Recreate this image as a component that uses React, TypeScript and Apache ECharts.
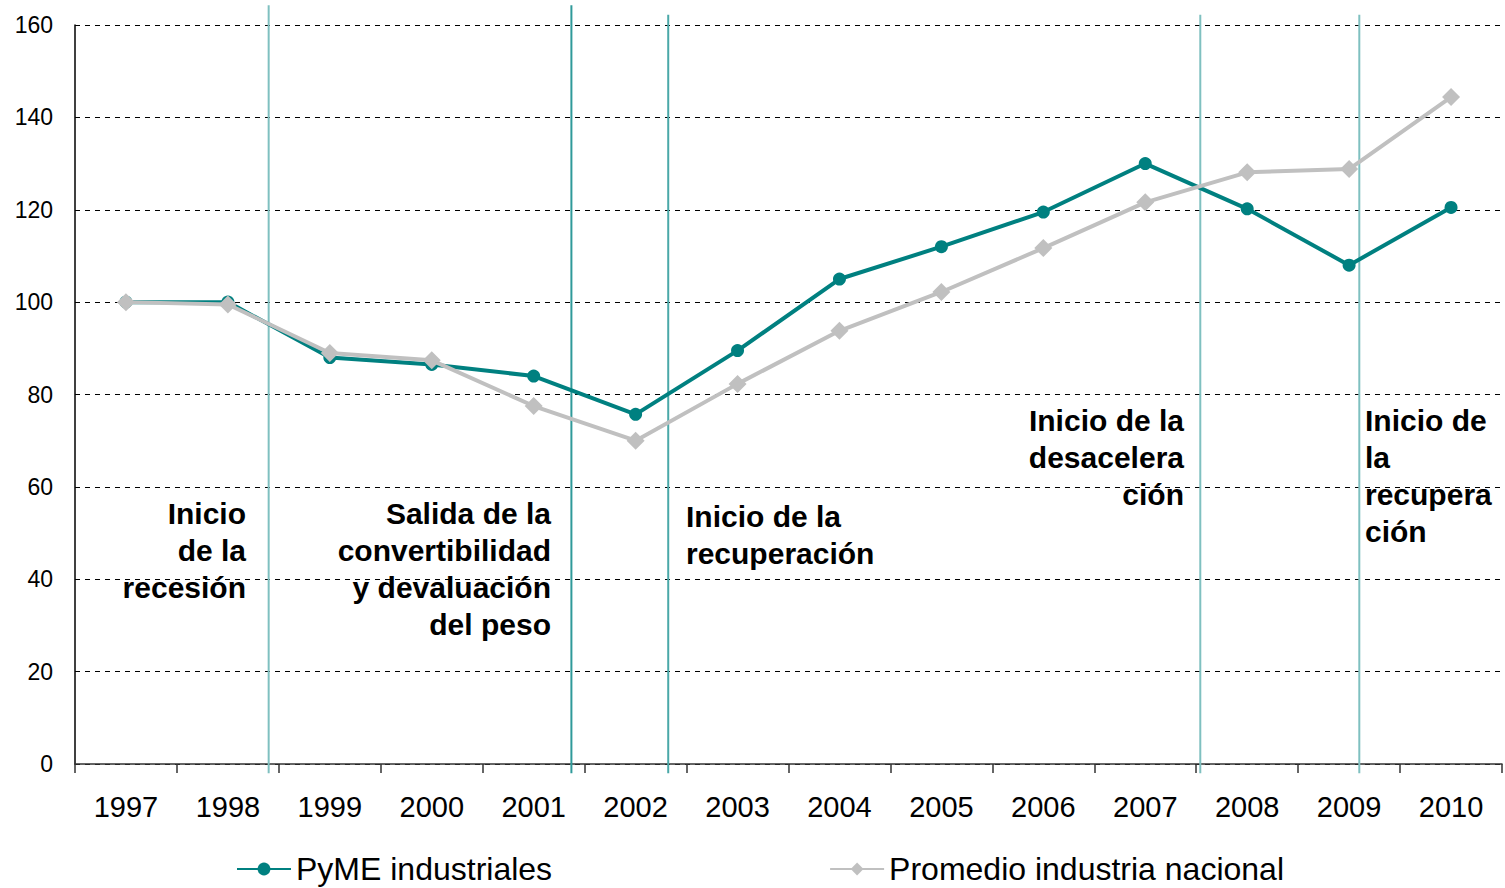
import React, { useEffect, useRef } from "react";
import * as echarts from "echarts";

const years = ["1997","1998","1999","2000","2001","2002","2003","2004","2005","2006","2007","2008","2009","2010"];
const pyme = [100, 100, 88, 86.5, 84, 75.7, 89.5, 105, 112, 119.5, 130, 120.2, 108, 120.5];
const promedio = [100, 99.5, 89, 87.4, 77.5, 70, 82.3, 93.8, 102.2, 111.7, 121.6, 128.1, 128.8, 144.4];
const yTicks = { min: 0, max: 160, interval: 20 };
// vertical event lines: position on the category scale (0 = 1997) and top value
const eventPos = [1.40, 4.37, 5.32, 10.54, 12.10];
const eventTop = [164.3, 164.3, 162.2, 162.2, 162.2];
const eventColor = ["#7fc0c0", "#2f9a9a", "#4aa8a8", "#7fc0c0", "#7fc0c0"];
const annotations = [
  { text: "Inicio\nde la\nrecesión", align: "right", x: 246, y: 495 },
  { text: "Salida de la\nconvertibilidad\ny devaluación\ndel peso", align: "right", x: 551, y: 495 },
  { text: "Inicio de la\nrecuperación", align: "left", x: 686, y: 498 },
  { text: "Inicio de la\ndesacelera\nción", align: "right", x: 1184, y: 402 },
  { text: "Inicio de\nla\nrecupera\nción", align: "left", x: 1365, y: 402 },
];

export default function App() {
  const ref = useRef<HTMLDivElement>(null);
  useEffect(() => {
    const chart = echarts.init(ref.current!, null, { renderer: "svg" });
    const font = "'Liberation Sans', Arial, sans-serif";
    chart.setOption({
      animation: false,
      textStyle: { fontFamily: font },
      grid: { left: 75, right: 3, top: 25, bottom: 124, containLabel: false },
      legend: {
        left: 236,
        top: 853,
        padding: 0,
        itemWidth: 54,
        itemHeight: 16,
        itemGap: 277,
        textStyle: { fontSize: 32, lineHeight: 30, color: "#000", fontFamily: font },
        data: ["PyME industriales", "Promedio industria nacional"],
      },
      xAxis: [
        {
          type: "category",
          data: years,
          boundaryGap: true,
          axisLine: { lineStyle: { color: "#333", width: 1.5 } },
          axisTick: { show: true, length: 9, lineStyle: { color: "#333", width: 1.5 } },
          axisLabel: { fontSize: 29, color: "#000", margin: 28, fontFamily: font },
          splitLine: { show: false },
        },
        {
          type: "value",
          min: -0.5,
          max: 13.5,
          show: false,
        },
      ],
      yAxis: {
        type: "value",
        min: yTicks.min,
        max: yTicks.max,
        interval: yTicks.interval,
        axisLine: { show: true, onZero: false, lineStyle: { color: "#000", width: 1.5 } },
        axisTick: { show: false },
        axisLabel: { fontSize: 23, color: "#000", margin: 22, fontFamily: font },
        splitLine: { show: true, lineStyle: { color: "#000", type: [5, 5], width: 1.2 } },
      },
      series: [
        {
          name: "events",
          type: "custom",
          xAxisIndex: 1,
          clip: false,
          silent: true,
          z: 1,
          data: eventPos.map((p, i) => [p, eventTop[i], i]),
          renderItem: (params: any, api: any) => {
            const x = api.value(0);
            const top = api.coord([x, api.value(1)]);
            const bot = api.coord([x, -2]);
            const idx = api.value(2);
            return {
              type: "line",
              shape: { x1: top[0], y1: top[1], x2: bot[0], y2: bot[1] },
              style: { stroke: eventColor[idx], lineWidth: 2 },
            };
          },
        },
        {
          name: "PyME industriales",
          type: "line",
          data: pyme,
          color: "#008080",
          symbol: "circle",
          symbolSize: 13,
          z: 3,
          lineStyle: { width: 4, color: "#008080" },
          itemStyle: { color: "#008080" },
        },
        {
          name: "Promedio industria nacional",
          type: "line",
          data: promedio,
          color: "#c0c0c0",
          symbol: "diamond",
          symbolSize: 18,
          z: 4,
          lineStyle: { width: 4, color: "#c0c0c0" },
          itemStyle: { color: "#c0c0c0" },
        },
      ],
      graphic: annotations.map((a) => ({
        type: "text",
        x: a.x,
        y: a.y,
        z: 100,
        style: {
          text: a.text,
          textAlign: a.align,
          textVerticalAlign: "top",
          font: `bold 30px ${font}`,
          lineHeight: 37,
          fill: "#000",
        },
      })),
    });
    return () => chart.dispose();
  }, []);
  return <div ref={ref} style={{ width: 1505, height: 888, position: "absolute", left: 0, top: 0 }} />;
}
